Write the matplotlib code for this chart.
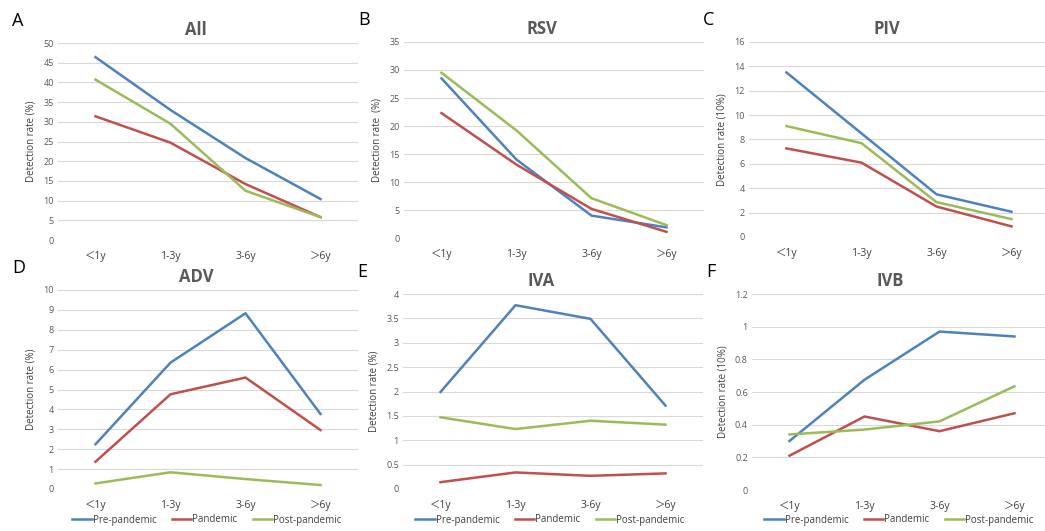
import numpy as np
import matplotlib
matplotlib.use('Agg')
import matplotlib.pyplot as plt

plt.rcParams['font.family'] = ['Open Sans', 'Noto Sans CJK SC', 'DejaVu Sans']

ages = ['＜1y', '1-3y', '3-6y', '＞6y']
periods = ['Pre-pandemic', 'Pandemic', 'Post-pandemic']
colors = ['#4F81BD', '#C0504D', '#9BBB59']

all_pre = [46.4, 33.0, 20.8, 10.4]
all_pan = [31.4, 24.7, 14.2, 5.8]
all_post = [40.7, 29.5, 12.5, 5.8]

rsv_pre = [28.5, 14.0, 4.0, 1.9]
rsv_pan = [22.3, 13.1, 5.2, 1.1]
rsv_post = [29.5, 19.2, 7.1, 2.3]

piv_pre = [13.5, 8.5, 3.5, 2.07]
piv_pan = [7.27, 6.1, 2.5, 0.87]
piv_post = [9.1, 7.7, 2.86, 1.47]

adv_pre = [2.25, 6.35, 8.83, 3.77]
adv_pan = [1.37, 4.76, 5.6, 2.96]
adv_post = [0.28, 0.84, 0.5, 0.2]

iva_pre = [1.99, 3.77, 3.49, 1.71]
iva_pan = [0.14, 0.34, 0.27, 0.32]
iva_post = [1.47, 1.23, 1.40, 1.32]

ivb_pre = [0.30, 0.675, 0.97, 0.94]
ivb_pan = [0.21, 0.45, 0.36, 0.47]
ivb_post = [0.34, 0.37, 0.42, 0.635]

panels = [
    ('A', 'All', [all_pre, all_pan, all_post], 50, 5, 'Detection rate (%)'),
    ('B', 'RSV', [rsv_pre, rsv_pan, rsv_post], 35, 5, 'Detection rate  (%)'),
    ('C', 'PIV', [piv_pre, piv_pan, piv_post], 16, 2, 'Detection rate (10%)'),
    ('D', 'ADV', [adv_pre, adv_pan, adv_post], 10, 1, 'Detection rate (%)'),
    ('E', 'IVA', [iva_pre, iva_pan, iva_post], 4, 0.5, 'Detection rate (%)'),
    ('F', 'IVB', [ivb_pre, ivb_pan, ivb_post], 1.2, 0.2, 'Detection rate (10%)'),
]

# axes boxes in pixels: left, top, right, bottom
W, H = 1045, 531
boxes = [(58, 43, 358, 240), (404, 42, 704, 238), (749, 42, 1049, 237),
         (58, 290, 358, 489), (403, 294, 703, 489), (752, 294, 1052, 490)]
legend_x = {3: 207, 4: 550, 5: 899}

fig = plt.figure(figsize=(W/100., H/100.), dpi=100)
fig.patch.set_facecolor('white')

for i, (letter, title, series, ymax, ystep, ylab) in enumerate(panels):
    l, t, r, b = boxes[i]
    ax = fig.add_axes([l/W, 1-b/H, (r-l)/W, (b-t)/H])
    x = np.arange(len(ages))
    for s, c, name in zip(series, colors, periods):
        ax.plot(x, s, color=c, lw=1.8, label=name, solid_joinstyle='miter')
    ax.set_xlim(-0.5, 3.5)
    ax.set_ylim(0, ymax)
    ticks = np.arange(0, ymax + ystep/2, ystep)
    ax.set_yticks(ticks)
    ax.set_yticklabels(['%g' % v for v in ticks], fontsize=6.5, color='#595959')
    ax.set_xticks(x)
    ax.set_xticklabels(ages, fontsize=7.5, color='#404040')
    ax.tick_params(axis='both', length=0)
    ax.tick_params(axis='y', pad=3)
    ax.tick_params(axis='x', pad=8)
    for side in ax.spines: ax.spines[side].set_visible(False)
    ax.grid(axis='y', color='#D9D9D9', lw=0.8)
    ax.set_axisbelow(True)
    ax.set_ylabel(ylab, fontsize=7, color='#404040', labelpad=5)
    ax.text(0.46, 1.02, title, transform=ax.transAxes, ha='center', va='bottom',
            fontsize=12, fontweight='bold', color='#595959')
    fig.text((l - 46)/W, 1 - (t - 22)/H, letter, fontsize=13, ha='left', va='center', color='black')
    if i >= 3:
        fig.legend(*ax.get_legend_handles_labels(), loc='center',
                   bbox_to_anchor=(legend_x[i]/W, 1 - 520/H), ncol=3, frameon=False,
                   fontsize=7, handlelength=2.0, handletextpad=0.1, columnspacing=1.6,
                   labelcolor='#404040', borderpad=0.1)

fig.savefig('out.png', dpi=100, facecolor='white')
